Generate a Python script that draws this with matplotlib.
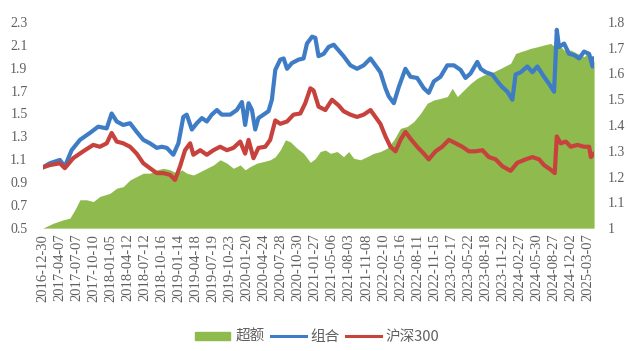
import matplotlib
matplotlib.use("Agg")
import matplotlib.pyplot as plt
from matplotlib.patches import Patch
from matplotlib.lines import Line2D

# x 轴刻度标签（每个刻度约一个季度）
tick_dates = [
    "2016-12-30", "2017-04-07", "2017-07-07", "2017-10-10", "2018-01-05",
    "2018-04-12", "2018-07-12", "2018-10-16", "2019-01-14", "2019-04-18",
    "2019-07-19", "2019-10-23", "2020-01-20", "2020-04-24", "2020-07-28",
    "2020-10-30", "2021-01-27", "2021-05-06", "2021-08-03", "2021-11-08",
    "2022-02-10", "2022-05-16", "2022-08-11", "2022-11-15", "2023-02-17",
    "2023-05-22", "2023-08-18", "2023-11-22", "2024-02-27", "2024-05-30",
    "2024-08-27", "2024-12-02", "2025-03-07",
]

# 组合（左轴），位置以刻度序号计
combo_pos = [0.00, 0.41, 1.00, 1.29, 1.69, 2.18, 2.76, 3.25, 3.75, 4.04, 4.34, 4.72,
             5.12, 5.51, 5.90, 6.29, 6.69, 6.98, 7.28, 7.66, 7.96, 8.25, 8.45, 8.75,
             9.04, 9.34, 9.63, 9.92, 10.22, 10.51, 11.00, 11.39, 11.69, 11.88, 12.08,
             12.28, 12.47, 12.66, 12.96, 13.25, 13.45, 13.65, 13.94, 14.14, 14.34,
             14.63, 15.02, 15.31, 15.51, 15.81, 16.00, 16.19, 16.49, 16.78, 17.08,
             17.37, 17.66, 18.06, 18.45, 18.84, 19.24, 19.53, 19.82, 20.12, 20.31,
             20.61, 20.90, 21.29, 21.59, 21.98, 22.37, 22.66, 22.96, 23.35, 23.75,
             24.14, 24.53, 24.82, 25.12, 25.51, 25.71, 26.00, 26.39, 26.69, 26.98,
             27.28, 27.57, 27.76, 28.06, 28.45, 28.75, 29.04, 29.43, 29.72, 30.02,
             30.18, 30.31, 30.61, 30.90, 31.19, 31.49, 31.78, 32.08, 32.28, 32.37]
combo_val = [1.03, 1.066, 1.095, 1.037, 1.18, 1.27, 1.33, 1.385, 1.37, 1.50, 1.43, 1.40,
             1.415, 1.34, 1.27, 1.24, 1.20, 1.21, 1.20, 1.14, 1.24, 1.47, 1.49, 1.36,
             1.415, 1.46, 1.43, 1.49, 1.53, 1.49, 1.49, 1.53, 1.60, 1.40, 1.59,
             1.53, 1.36, 1.46, 1.49, 1.52, 1.62, 1.88, 1.97, 1.98, 1.89,
             1.94, 1.97, 1.98, 2.11, 2.17, 2.16, 2.00, 2.02, 2.08, 2.10,
             2.05, 2.00, 1.92, 1.89, 1.92, 1.98, 1.92, 1.86, 1.72, 1.65,
             1.59, 1.73, 1.89, 1.82, 1.81, 1.72, 1.68, 1.78, 1.82, 1.92,
             1.92, 1.88, 1.81, 1.85, 1.95, 1.89, 1.86, 1.84, 1.78, 1.73,
             1.69, 1.62, 1.84, 1.86, 1.91, 1.86, 1.91, 1.82, 1.76, 1.69,
             2.23, 2.08, 2.11, 2.02, 2.01, 1.98, 2.04, 2.02, 1.91, 1.98]

# 沪深300（左轴）
hs300_pos = [0.00, 0.41, 1.00, 1.29, 1.78, 2.37, 2.96, 3.35, 3.75, 4.04, 4.34, 4.72,
             5.12, 5.51, 5.90, 6.29, 6.69, 7.08, 7.47, 7.76, 8.06, 8.35, 8.65, 8.84,
             9.24, 9.63, 10.02, 10.41, 10.81, 11.19, 11.59, 11.88, 12.08, 12.37, 12.66,
             13.06, 13.35, 13.65, 13.94, 14.34, 14.72, 15.12, 15.41, 15.71, 15.90,
             16.19, 16.59, 16.98, 17.37, 17.66, 18.06, 18.45, 18.84, 19.24, 19.53,
             19.82, 20.12, 20.41, 20.71, 21.00, 21.29, 21.59, 21.98, 22.37, 22.66,
             23.06, 23.45, 23.84, 24.24, 24.63, 25.02, 25.41, 25.81, 26.19, 26.59,
             26.98, 27.47, 27.86, 28.35, 28.75, 29.14, 29.43, 29.82, 30.06, 30.18,
             30.41, 30.71, 31.00, 31.39, 31.78, 32.08, 32.18, 32.37]
hs300_val = [1.03, 1.05, 1.066, 1.023, 1.11, 1.17, 1.226, 1.21, 1.24, 1.33, 1.255, 1.24,
             1.21, 1.15, 1.066, 1.023, 0.98, 0.98, 0.965, 0.92, 1.04, 1.18, 1.24, 1.14,
             1.18, 1.14, 1.18, 1.21, 1.18, 1.20, 1.255, 1.15, 1.27, 1.11, 1.20,
             1.21, 1.27, 1.44, 1.41, 1.43, 1.49, 1.50, 1.59, 1.72, 1.70,
             1.56, 1.53, 1.62, 1.57, 1.52, 1.49, 1.47, 1.49, 1.53, 1.47,
             1.41, 1.30, 1.21, 1.17, 1.27, 1.34, 1.28, 1.21, 1.15, 1.10,
             1.17, 1.21, 1.27, 1.24, 1.21, 1.17, 1.17, 1.18, 1.12, 1.10,
             1.04, 1.00, 1.07, 1.10, 1.12, 1.10, 1.05, 1.01, 0.98, 1.30,
             1.24, 1.255, 1.21, 1.226, 1.21, 1.21, 1.12, 1.15]

# 超额（右轴）
excess_pos = [0.00, 0.61, 1.19, 1.59, 1.88, 2.18, 2.57, 2.96, 3.35, 3.94, 4.34, 4.72,
              5.12, 5.51, 5.90, 6.29, 6.69, 7.08, 7.47, 7.86, 8.16, 8.45, 8.84, 9.24,
              9.63, 10.02, 10.41, 10.81, 11.19, 11.59, 11.88, 12.18, 12.57, 12.96,
              13.35, 13.65, 13.94, 14.24, 14.53, 14.92, 15.31, 15.71, 16.00, 16.29,
              16.59, 16.88, 17.28, 17.66, 17.96, 18.25, 18.65, 19.04, 19.43, 19.82,
              20.22, 20.61, 21.00, 21.39, 21.78, 22.18, 22.57, 22.96, 23.35, 23.75,
              24.04, 24.34, 24.72, 25.12, 25.51, 25.90, 26.29, 26.69, 27.08, 27.47,
              27.76, 28.06, 28.35, 28.65, 29.04, 29.43, 29.82, 30.06, 30.31, 30.61,
              31.00, 31.39, 31.78, 32.08, 32.28, 32.37]
excess_val = [1.0, 1.019, 1.032, 1.039, 1.071, 1.11, 1.11, 1.103, 1.123, 1.135, 1.155, 1.161,
              1.187, 1.20, 1.213, 1.213, 1.226, 1.232, 1.226, 1.213, 1.226, 1.213, 1.206, 1.219,
              1.232, 1.245, 1.265, 1.252, 1.232, 1.245, 1.226, 1.239, 1.252, 1.258,
              1.265, 1.277, 1.303, 1.342, 1.335, 1.31, 1.29, 1.255, 1.27, 1.297,
              1.303, 1.29, 1.297, 1.277, 1.297, 1.271, 1.265, 1.277, 1.29, 1.297,
              1.31, 1.342, 1.387, 1.394, 1.413, 1.445, 1.484, 1.497, 1.503, 1.51,
              1.542, 1.51, 1.535, 1.561, 1.581, 1.594, 1.60, 1.613, 1.626, 1.639,
              1.677, 1.684, 1.69, 1.697, 1.703, 1.71, 1.716, 1.703, 1.71, 1.69,
              1.69, 1.677, 1.665, 1.684, 1.626, 1.652]

green = "#8FBA4E"
blue = "#3E7CC6"
red = "#C7423D"
grey = "#5F5F5F"
serif = "Liberation Serif"

fig = plt.figure(figsize=(6.30, 3.51), dpi=100)
ax = fig.add_axes([0.068, 0.350, 0.875, 0.588])
ax2 = ax.twinx()
ax.set_zorder(ax2.get_zorder() + 1)
ax.patch.set_visible(False)

ax2.fill_between(excess_pos, 1.0, excess_val, color=green, lw=0)
ax.plot(combo_pos, combo_val, color=blue, lw=3.0, solid_joinstyle="round")
ax.plot(hs300_pos, hs300_val, color=red, lw=3.0, solid_joinstyle="round")

ax.set_xlim(0, combo_pos[-1])
ax.set_ylim(0.5, 2.3)
ax2.set_ylim(1.0, 1.8)
ax.set_yticks([0.5 + 0.2 * i for i in range(10)])
ax.set_yticklabels([f"{0.5 + 0.2 * i:.1f}" for i in range(10)])
ax2.set_yticks([1.0 + 0.1 * i for i in range(9)])
ax2.set_yticklabels(["1"] + [f"{1.0 + 0.1 * i:.1f}" for i in range(1, 9)])
ax.set_xticks(range(len(tick_dates)))
ax.set_xticklabels(tick_dates, rotation=90)

for a in (ax, ax2):
    for s in a.spines.values():
        s.set_visible(False)
    a.tick_params(length=0, colors=grey, labelsize=10, labelfontfamily=serif)
ax.tick_params(axis="y", pad=11)
ax2.tick_params(axis="y", pad=10)
ax.tick_params(axis="x", pad=4, labelsize=10.5)

handles = [Patch(color=green), Line2D([], [], color=blue, lw=2.2),
           Line2D([], [], color=red, lw=2.2)]
leg = fig.legend(handles, ["超额", "组合", "沪深300"], loc="center",
                 bbox_to_anchor=(0.504, 0.04), ncol=3, frameon=False,
                 handlelength=2.4, handleheight=0.55, handletextpad=0.35,
                 columnspacing=0.4, prop={"family": ["Noto Sans CJK SC", "DejaVu Sans"], "size": 10.5})
for t in leg.get_texts():
    t.set_color(grey)

fig.savefig("out.png", dpi=100)
